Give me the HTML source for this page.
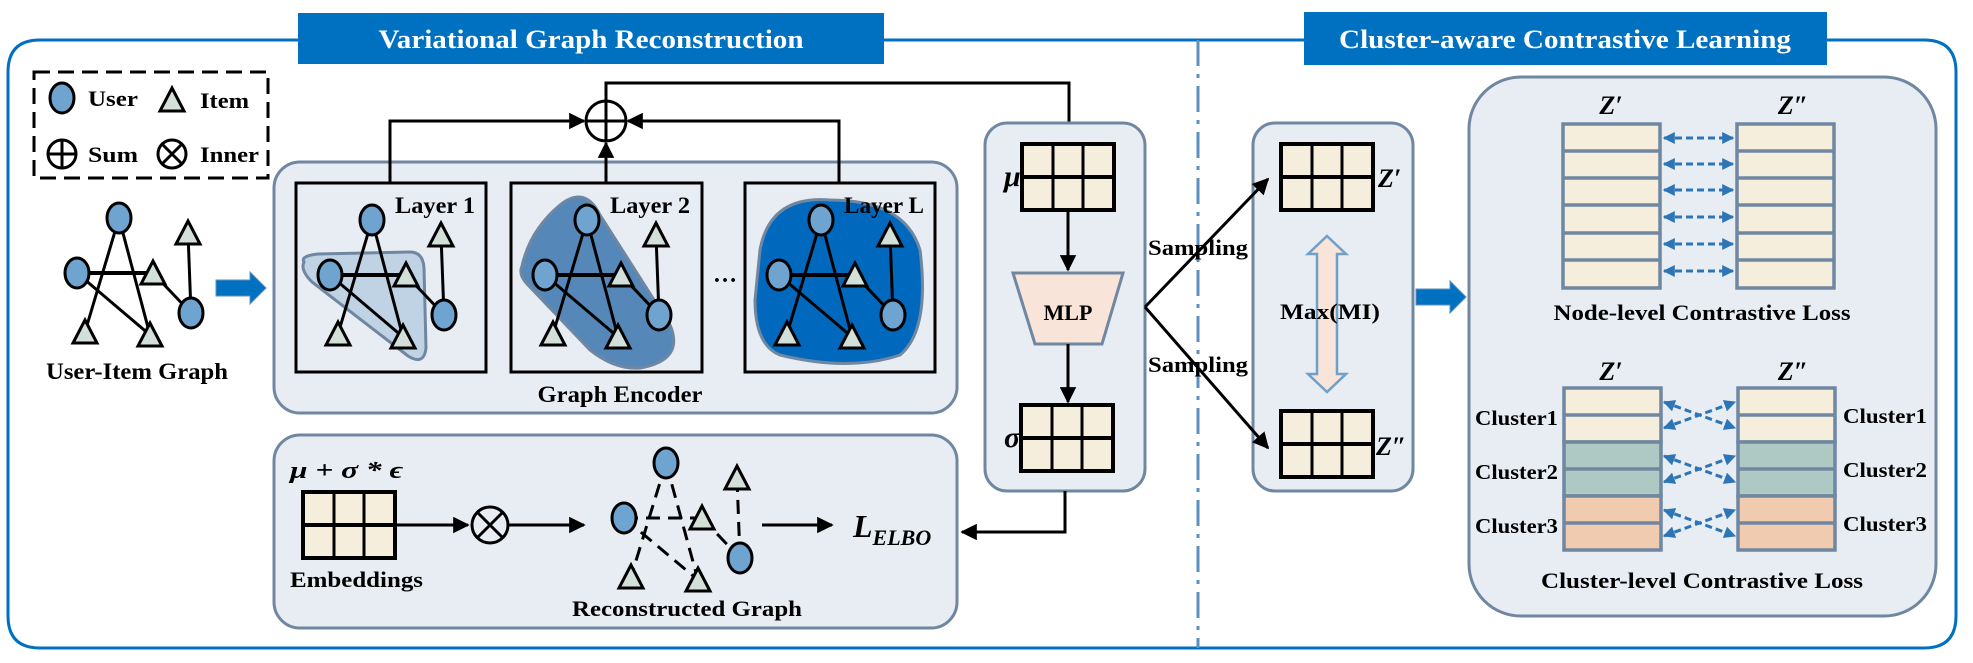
<!DOCTYPE html>
<html><head><meta charset="utf-8"><style>
html,body{margin:0;padding:0;background:#fff;}
svg{display:block;}
text{font-family:"Liberation Serif",serif;font-weight:bold;fill:#000;}
</style></head><body>
<svg width="1973" height="663" viewBox="0 0 1973 663" xmlns="http://www.w3.org/2000/svg">
<defs>
<marker id="ah" viewBox="0 0 10 10" refX="9" refY="5" markerWidth="5.5" markerHeight="5.5" orient="auto-start-reverse"><path d="M0,0 L10,5 L0,10 z" fill="#000"/></marker>
<marker id="bh" viewBox="0 0 10 10" refX="9" refY="5" markerWidth="4" markerHeight="4" orient="auto-start-reverse"><path d="M0,0 L10,5 L0,10 z" fill="#2e75b6"/></marker>
<g id="tri"><path d="M0,-12 L12,11 L-12,11 Z" fill="#d3e0da" stroke="#000" stroke-width="3"/></g>
<g id="cir"><ellipse cx="0" cy="0" rx="12" ry="15" fill="#6fa3d0" stroke="#000" stroke-width="3"/></g>
<g id="graph">
<g stroke="#000" stroke-width="3">
<line x1="0" y1="0" x2="-34" y2="114"/>
<line x1="0" y1="0" x2="31" y2="117"/>
<line x1="-42" y1="55" x2="34" y2="55" stroke-width="4"/>
<line x1="-42" y1="55" x2="31" y2="117"/>
<line x1="34" y1="55" x2="72" y2="95"/>
<line x1="69" y1="15" x2="72" y2="95"/>
</g>
<use href="#cir" x="0" y="0"/><use href="#tri" x="69" y="15"/><use href="#cir" x="-42" y="55"/>
<use href="#tri" x="34" y="55"/><use href="#cir" x="72" y="95"/><use href="#tri" x="-34" y="114"/><use href="#tri" x="31" y="117"/>
</g>
<g id="mat"><rect x="0" y="0" width="92" height="66" fill="#f5eedc" stroke="#000" stroke-width="4"/>
<line x1="31" y1="0" x2="31" y2="66" stroke="#000" stroke-width="3"/><line x1="61" y1="0" x2="61" y2="66" stroke="#000" stroke-width="3"/>
<line x1="0" y1="33" x2="92" y2="33" stroke="#000" stroke-width="4"/></g>
</defs>

<path d="M298,40 L40,40 Q8,40 8,72 L8,616 Q8,648 40,648 L1924,648 Q1956,648 1956,616 L1956,72 Q1956,40 1924,40 L1827,40" fill="none" stroke="#0070c0" stroke-width="3"/>
<line x1="884" y1="40" x2="1304" y2="40" stroke="#0070c0" stroke-width="3"/>
<rect x="298" y="13" width="586" height="51" fill="#0070c0"/>
<text x="591" y="48" font-size="26" text-anchor="middle" style="fill:#fff" textLength="425" lengthAdjust="spacingAndGlyphs">Variational Graph Reconstruction</text>
<rect x="1304" y="12" width="523" height="53" fill="#0070c0"/>
<text x="1565" y="48" font-size="26" text-anchor="middle" style="fill:#fff" textLength="452" lengthAdjust="spacingAndGlyphs">Cluster-aware Contrastive Learning</text>
<line x1="1198" y1="40" x2="1198" y2="648" stroke="#5b8fbf" stroke-width="3" stroke-dasharray="26,8,4,8"/>

<rect x="34" y="72" width="234" height="106" fill="none" stroke="#000" stroke-width="3" stroke-dasharray="16,8"/>
<use href="#cir" x="62" y="98"/><text x="88" y="106" font-size="22" textLength="50" lengthAdjust="spacingAndGlyphs">User</text>
<use href="#tri" x="172" y="100"/><text x="200" y="108" font-size="22" textLength="49" lengthAdjust="spacingAndGlyphs">Item</text>
<circle cx="62" cy="154" r="14" fill="none" stroke="#000" stroke-width="3"/><line x1="48" y1="154" x2="76" y2="154" stroke="#000" stroke-width="3"/><line x1="62" y1="140" x2="62" y2="168" stroke="#000" stroke-width="3"/>
<text x="88" y="162" font-size="22" textLength="50" lengthAdjust="spacingAndGlyphs">Sum</text>
<circle cx="172" cy="154" r="14" fill="none" stroke="#000" stroke-width="3"/><line x1="162" y1="144" x2="182" y2="164" stroke="#000" stroke-width="3"/><line x1="182" y1="144" x2="162" y2="164" stroke="#000" stroke-width="3"/>
<text x="200" y="162" font-size="22" textLength="59" lengthAdjust="spacingAndGlyphs">Inner</text>

<use href="#graph" x="119" y="218"/>
<text x="137" y="379" font-size="23" text-anchor="middle" textLength="182" lengthAdjust="spacingAndGlyphs">User-Item Graph</text>
<path d="M216,280 L250,280 L250,272 L266,288 L250,304 L250,296 L216,296 Z" fill="#0070c0" stroke="#5b8fbf" stroke-width="1"/>

<rect x="274" y="162" width="683" height="251" rx="26" fill="#e8edf4" stroke="#6f87a0" stroke-width="3"/>
<rect x="296" y="183" width="190" height="189" fill="#e8edf4" stroke="#000" stroke-width="3"/>
<rect x="511" y="183" width="191" height="189" fill="#e8edf4" stroke="#000" stroke-width="3"/>
<rect x="745" y="183" width="190" height="189" fill="#e8edf4" stroke="#000" stroke-width="3"/>
<path d="M304,262 Q300,256 318,254 L410,252 Q423,252 424,268 L426,348 Q424,366 408,356 L312,282 Q300,270 304,262 Z" fill="#c0d3e4" stroke="#6f87a0" stroke-width="3"/>
<path d="M522,266 Q530,230 560,205 Q585,185 600,215 L670,325 Q685,360 640,368 Q615,370 590,350 L528,285 Q518,275 522,266 Z" fill="#5587b8" stroke="#6f87a0" stroke-width="3"/>
<path d="M760,250 Q770,195 830,200 Q905,200 920,250 Q930,330 900,355 Q850,372 780,355 Q755,345 755,300 Z" fill="#0068bd" stroke="#6f87a0" stroke-width="3"/>
<use href="#graph" x="372" y="220"/>
<use href="#graph" x="587" y="220"/>
<use href="#graph" x="821" y="220"/>
<text x="475" y="213" font-size="23" text-anchor="end" textLength="80" lengthAdjust="spacingAndGlyphs">Layer 1</text>
<text x="690" y="213" font-size="23" text-anchor="end" textLength="80" lengthAdjust="spacingAndGlyphs">Layer 2</text>
<text x="924" y="213" font-size="23" text-anchor="end" textLength="80" lengthAdjust="spacingAndGlyphs">Layer L</text>
<text x="725" y="282" font-size="24" text-anchor="middle">…</text>
<text x="620" y="402" font-size="23" text-anchor="middle" textLength="165" lengthAdjust="spacingAndGlyphs">Graph Encoder</text>

<circle cx="606" cy="121" r="20" fill="#fff" stroke="#000" stroke-width="3"/>
<line x1="586" y1="121" x2="626" y2="121" stroke="#000" stroke-width="3"/><line x1="606" y1="101" x2="606" y2="141" stroke="#000" stroke-width="3"/>
<g fill="none" stroke="#000" stroke-width="3">
<polyline points="390,183 390,121 584,121" marker-end="url(#ah)"/>
<polyline points="839,183 839,121 628,121" marker-end="url(#ah)"/>
<line x1="606" y1="183" x2="606" y2="143" marker-end="url(#ah)"/>
<polyline points="606,101 606,83 1069,83 1069,142" marker-end="url(#ah)"/>
</g>

<rect x="985" y="123" width="160" height="368" rx="22" fill="#e8edf4" stroke="#6f87a0" stroke-width="3"/>
<use href="#mat" x="1022" y="144"/>
<use href="#mat" x="1021" y="405"/>
<text x="1004" y="186" font-size="30" font-style="italic">μ</text>
<text x="1004" y="447" font-size="30" font-style="italic">σ</text>
<path d="M1013,273 L1123,273 L1102,344 L1035,344 Z" fill="#f8e4d8" stroke="#6f87a0" stroke-width="3"/>
<text x="1068" y="320" font-size="22" text-anchor="middle">MLP</text>
<g fill="none" stroke="#000" stroke-width="3">
<line x1="1068" y1="210" x2="1068" y2="270" marker-end="url(#ah)"/>
<line x1="1068" y1="344" x2="1068" y2="402" marker-end="url(#ah)"/>
<polyline points="1065,491 1065,532 962,532" marker-end="url(#ah)"/>
</g>

<rect x="1253" y="123" width="160" height="368" rx="22" fill="#e8edf4" stroke="#6f87a0" stroke-width="3"/>
<use href="#mat" x="1281" y="144"/>
<use href="#mat" x="1281" y="411"/>
<text x="1378" y="187" font-size="26" font-style="italic">Z′</text>
<text x="1376" y="455" font-size="26" font-style="italic">Z″</text>
<path d="M1327,236 L1346,254 L1337,254 L1337,374 L1346,374 L1327,392 L1308,374 L1317,374 L1317,254 L1308,254 Z" fill="#f8e4d8" stroke="#6f9fcb" stroke-width="2.5"/>
<text x="1330" y="319" font-size="22" text-anchor="middle" textLength="100" lengthAdjust="spacingAndGlyphs">Max(MI)</text>
<path d="M1416,289 L1450,289 L1450,281 L1466,297 L1450,313 L1450,305 L1416,305 Z" fill="#0070c0" stroke="#5b8fbf" stroke-width="1"/>

<g fill="none" stroke="#000" stroke-width="3">
<line x1="1145" y1="307" x2="1268" y2="179" marker-end="url(#ah)"/>
<line x1="1145" y1="307" x2="1268" y2="448" marker-end="url(#ah)"/>
</g>
<text x="1148" y="255" font-size="22" textLength="100" lengthAdjust="spacingAndGlyphs">Sampling</text>
<text x="1148" y="372" font-size="22" textLength="100" lengthAdjust="spacingAndGlyphs">Sampling</text>

<rect x="1469" y="77" width="467" height="539" rx="52" fill="#e8edf4" stroke="#6f87a0" stroke-width="3"/>
<text x="1611" y="114" font-size="26" font-style="italic" text-anchor="middle">Z′</text>
<text x="1793" y="114" font-size="26" font-style="italic" text-anchor="middle">Z″</text>
<g stroke="#6f87a0" stroke-width="3.5">
<rect x="1563" y="124" width="97" height="164" fill="#f5eedc"/>
<rect x="1737" y="124" width="97" height="164" fill="#f5eedc"/>
<line x1="1563" y1="151" x2="1660" y2="151"/><line x1="1563" y1="178" x2="1660" y2="178"/><line x1="1563" y1="205" x2="1660" y2="205"/><line x1="1563" y1="233" x2="1660" y2="233"/><line x1="1563" y1="260" x2="1660" y2="260"/>
<line x1="1737" y1="151" x2="1834" y2="151"/><line x1="1737" y1="178" x2="1834" y2="178"/><line x1="1737" y1="205" x2="1834" y2="205"/><line x1="1737" y1="233" x2="1834" y2="233"/><line x1="1737" y1="260" x2="1834" y2="260"/>
</g>
<g stroke="#2e75b6" stroke-width="3" stroke-dasharray="7,4" marker-start="url(#bh)" marker-end="url(#bh)">
<line x1="1664" y1="138" x2="1733" y2="138"/><line x1="1664" y1="164" x2="1733" y2="164"/><line x1="1664" y1="190" x2="1733" y2="190"/>
<line x1="1664" y1="217" x2="1733" y2="217"/><line x1="1664" y1="244" x2="1733" y2="244"/><line x1="1664" y1="271" x2="1733" y2="271"/>
</g>
<text x="1702" y="320" font-size="22" text-anchor="middle" textLength="297" lengthAdjust="spacingAndGlyphs">Node-level Contrastive Loss</text>

<text x="1611" y="380" font-size="26" font-style="italic" text-anchor="middle">Z′</text>
<text x="1793" y="380" font-size="26" font-style="italic" text-anchor="middle">Z″</text>
<g stroke="#6f87a0" stroke-width="3.5">
<rect x="1564" y="388" width="97" height="54" fill="#f5eedc"/><rect x="1564" y="442" width="97" height="54" fill="#aec9c3"/><rect x="1564" y="496" width="97" height="54" fill="#f0cbb0"/>
<rect x="1738" y="388" width="97" height="54" fill="#f5eedc"/><rect x="1738" y="442" width="97" height="54" fill="#aec9c3"/><rect x="1738" y="496" width="97" height="54" fill="#f0cbb0"/>
<line x1="1564" y1="415" x2="1661" y2="415"/><line x1="1564" y1="469" x2="1661" y2="469"/><line x1="1564" y1="523" x2="1661" y2="523"/>
<line x1="1738" y1="415" x2="1835" y2="415"/><line x1="1738" y1="469" x2="1835" y2="469"/><line x1="1738" y1="523" x2="1835" y2="523"/>
</g>
<g stroke="#2e75b6" stroke-width="3" stroke-dasharray="7,4" marker-start="url(#bh)" marker-end="url(#bh)">
<line x1="1664" y1="402" x2="1735" y2="428"/><line x1="1664" y1="428" x2="1735" y2="402"/>
<line x1="1664" y1="456" x2="1735" y2="482"/><line x1="1664" y1="482" x2="1735" y2="456"/>
<line x1="1664" y1="510" x2="1735" y2="536"/><line x1="1664" y1="536" x2="1735" y2="510"/>
</g>
<g font-size="21">
<text x="1475" y="425" textLength="83" lengthAdjust="spacingAndGlyphs">Cluster1</text>
<text x="1475" y="479" textLength="83" lengthAdjust="spacingAndGlyphs">Cluster2</text>
<text x="1475" y="533" textLength="83" lengthAdjust="spacingAndGlyphs">Cluster3</text>
<text x="1843" y="423" textLength="84" lengthAdjust="spacingAndGlyphs">Cluster1</text>
<text x="1843" y="477" textLength="84" lengthAdjust="spacingAndGlyphs">Cluster2</text>
<text x="1843" y="531" textLength="84" lengthAdjust="spacingAndGlyphs">Cluster3</text>
</g>
<text x="1702" y="588" font-size="22" text-anchor="middle" textLength="322" lengthAdjust="spacingAndGlyphs">Cluster-level Contrastive Loss</text>

<rect x="274" y="435" width="683" height="193" rx="26" fill="#e8edf4" stroke="#6f87a0" stroke-width="3"/>
<text x="290" y="478" font-size="24" font-style="italic" textLength="113" lengthAdjust="spacingAndGlyphs">μ + σ * ϵ</text>
<use href="#mat" x="303" y="492"/>
<text x="290" y="587" font-size="22" textLength="133" lengthAdjust="spacingAndGlyphs">Embeddings</text>
<g fill="none" stroke="#000" stroke-width="3">
<line x1="395" y1="525" x2="468" y2="525" marker-end="url(#ah)"/>
<circle cx="490" cy="525" r="18"/><line x1="477" y1="512" x2="503" y2="538"/><line x1="503" y1="512" x2="477" y2="538"/>
<line x1="508" y1="525" x2="584" y2="525" marker-end="url(#ah)"/>
<line x1="762" y1="525" x2="832" y2="525" marker-end="url(#ah)"/>
</g>
<g stroke="#000" stroke-width="3" stroke-dasharray="14,8">
<line x1="666" y1="463" x2="631" y2="577"/>
<line x1="666" y1="463" x2="698" y2="580"/>
<line x1="624" y1="518" x2="702" y2="518"/>
<line x1="624" y1="518" x2="698" y2="580"/>
<line x1="702" y1="518" x2="740" y2="558"/>
<line x1="737" y1="478" x2="740" y2="558"/>
</g>
<use href="#cir" x="666" y="463"/><use href="#tri" x="737" y="478"/><use href="#cir" x="624" y="518"/>
<use href="#tri" x="702" y="518"/><use href="#cir" x="740" y="558"/><use href="#tri" x="631" y="577"/><use href="#tri" x="698" y="580"/>
<text x="687" y="616" font-size="22" text-anchor="middle" textLength="230" lengthAdjust="spacingAndGlyphs">Reconstructed Graph</text>
<text x="853" y="537" font-size="32" font-style="italic">L<tspan font-size="22" dy="8">ELBO</tspan></text>
</svg>
</body></html>
